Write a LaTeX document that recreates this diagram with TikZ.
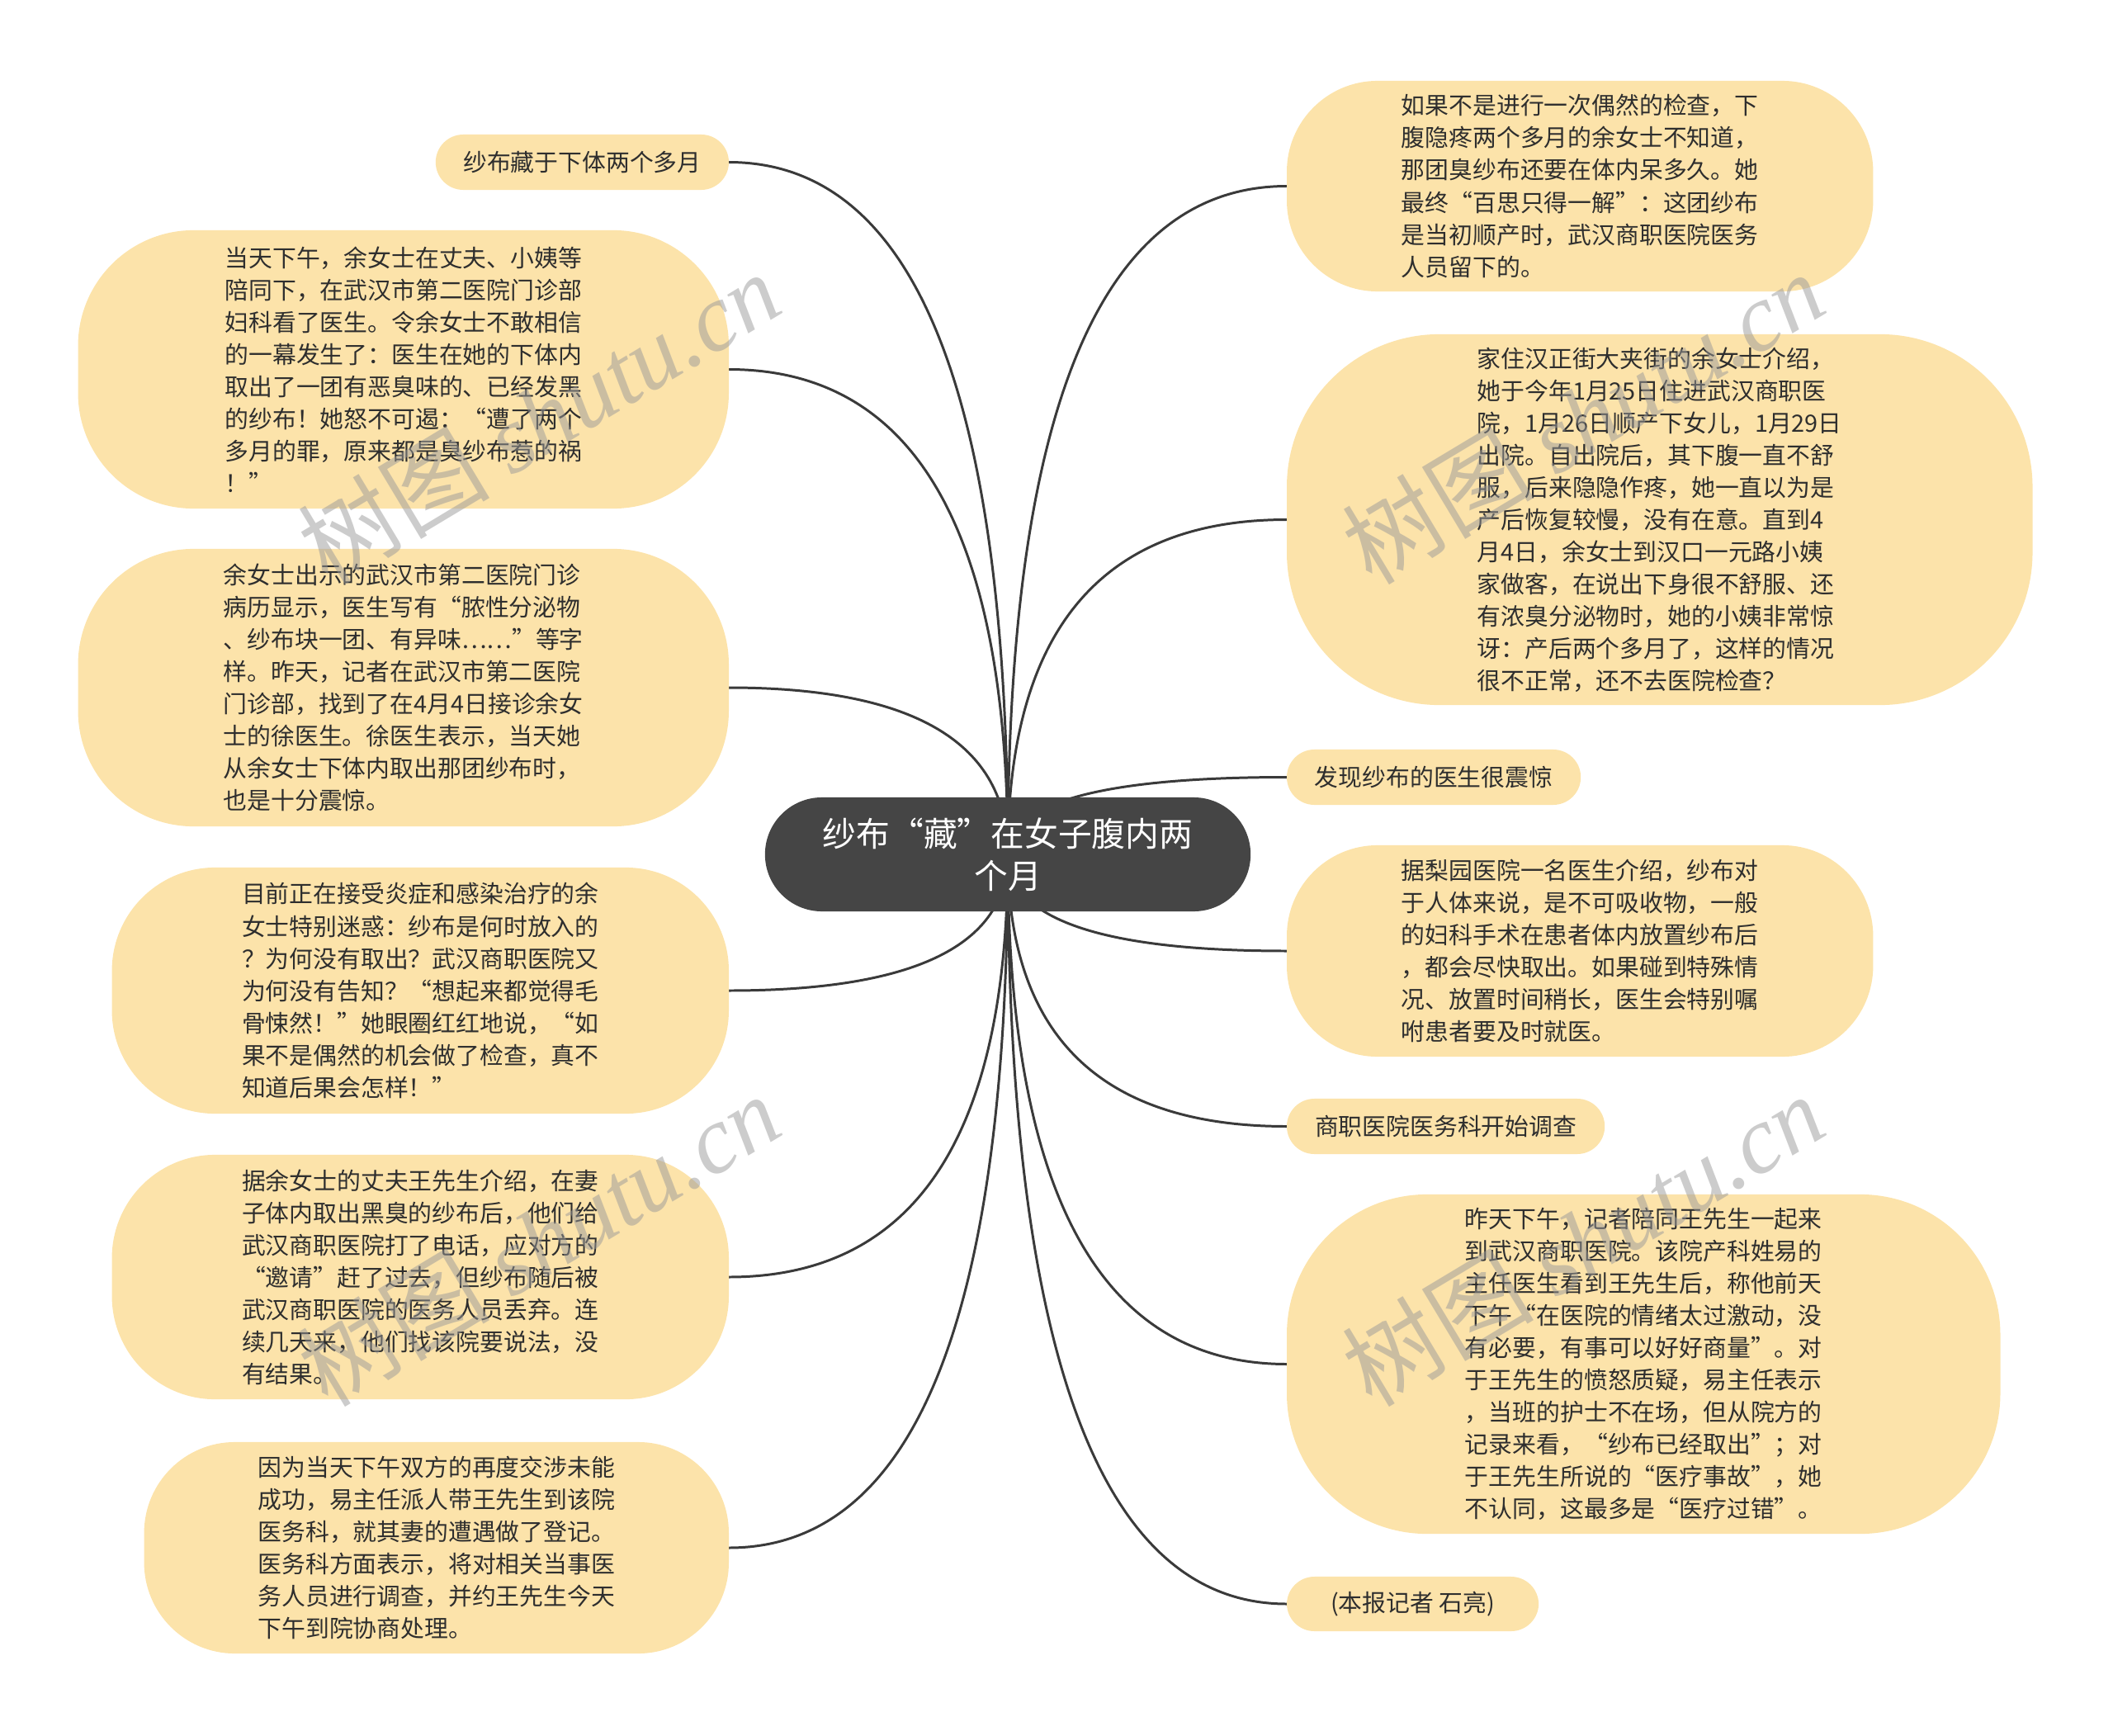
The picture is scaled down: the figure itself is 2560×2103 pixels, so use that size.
\documentclass[tikz,border=0pt]{standalone}
\usepackage{fontspec}
\usepackage{xcolor}
\usepackage{tikz}
\usetikzlibrary{calc,backgrounds}

\newfontfamily\cjk{Noto Sans CJK SC}
\newfontfamily\wmserif{Liberation Serif}

\definecolor{leafyellow}{HTML}{FCE3AA}
\definecolor{rootgray}{HTML}{454545}
\definecolor{inkgray}{HTML}{2E2E2E}
\definecolor{linegray}{HTML}{3A3A3A}

\tikzset{
  root/.style={fill=rootgray, text=white, font=\cjk\fontsize{11.6pt}{14.4pt}\selectfont,
    align=center, inner sep=0pt, outer sep=0pt, rounded corners=0.69cm},
  leaf/.style={fill=leafyellow, text=inkgray, font=\cjk\fontsize{8.2pt}{11.1pt}\selectfont,
    align=left, inner sep=0pt, outer sep=0pt, rounded corners=#1},
  leaf/.default=0.335cm,
  branch/.style={draw=linegray, line width=0.85pt},
  stamp/.style={text=black!40, opacity=0.5, font=\cjk\fontsize{33pt}{33pt}\selectfont,
    rotate=31, inner sep=0pt}
}

\begin{document}
\begin{tikzpicture}[x=0.01cm, y=-0.01cm]
    \useasboundingbox (0,0) rectangle (2560,2103);
    % root topic
    \node[root, minimum width=5.88cm, minimum height=1.38cm] (ctr) at (1221,1035) {纱布“藏”在女子腹内两\\个月};
    % left side: east edge at x=883
    \node[leaf, anchor=east, minimum width=3.55cm, minimum height=0.67cm] (l1) at (883,196.5) {纱布藏于下体两个多月};
    \node[leaf=1.4cm, anchor=east, minimum width=7.88cm, minimum height=3.37cm] (l2) at (883,447.5) {当天下午，余女士在丈夫、小姨等\\陪同下，在武汉市第二医院门诊部\\妇科看了医生。令余女士不敢相信\\的一幕发生了：医生在她的下体内\\取出了一团有恶臭味的、已经发黑\\的纱布！她怒不可遏：“遭了两个\\多月的罪，原来都是臭纱布惹的祸\\！”};
    \node[leaf=1.4cm, anchor=east, minimum width=7.88cm, minimum height=3.36cm] (l3) at (883,833) {余女士出示的武汉市第二医院门诊\\病历显示，医生写有“脓性分泌物\\、纱布块一团、有异味……”等字\\样。昨天，记者在武汉市第二医院\\门诊部，找到了在4月4日接诊余女\\士的徐医生。徐医生表示，当天她\\从余女士下体内取出那团纱布时，\\也是十分震惊。};
    \node[leaf=1.25cm, anchor=east, minimum width=7.47cm, minimum height=2.98cm] (l4) at (883,1200) {目前正在接受炎症和感染治疗的余\\女士特别迷惑：纱布是何时放入的\\？为何没有取出？武汉商职医院又\\为何没有告知？“想起来都觉得毛\\骨悚然！”她眼圈红红地说，“如\\果不是偶然的机会做了检查，真不\\知道后果会怎样！”};
    \node[leaf=1.25cm, anchor=east, minimum width=7.47cm, minimum height=2.96cm] (l5) at (883,1547) {据余女士的丈夫王先生介绍，在妻\\子体内取出黑臭的纱布后，他们给\\武汉商职医院打了电话，应对方的\\“邀请”赶了过去，但纱布随后被\\武汉商职医院的医务人员丢弃。连\\续几天来，他们找该院要说法，没\\有结果。};
    \node[leaf=1.1cm, anchor=east, minimum width=7.08cm, minimum height=2.56cm] (l6) at (883,1875) {因为当天下午双方的再度交涉未能\\成功，易主任派人带王先生到该院\\医务科，就其妻的遭遇做了登记。\\医务科方面表示，将对相关当事医\\务人员进行调查，并约王先生今天\\下午到院协商处理。};
    % right side: west edge at x=1559
    \node[leaf=1.1cm, anchor=west, minimum width=7.10cm, minimum height=2.55cm] (r1) at (1559,225.5) {如果不是进行一次偶然的检查，下\\腹隐疼两个多月的余女士不知道，\\那团臭纱布还要在体内呆多久。她\\最终“百思只得一解”：这团纱布\\是当初顺产时，武汉商职医院医务\\人员留下的。};
    \node[leaf=1.85cm, anchor=west, minimum width=9.03cm, minimum height=4.49cm] (r2) at (1559,629.5) {家住汉正街大夹街的余女士介绍，\\她于今年1月25日住进武汉商职医\\院，1月26日顺产下女儿，1月29日\\出院。自出院后，其下腹一直不舒\\服，后来隐隐作疼，她一直以为是\\产后恢复较慢，没有在意。直到4\\月4日，余女士到汉口一元路小姨\\家做客，在说出下身很不舒服、还\\有浓臭分泌物时，她的小姨非常惊\\讶：产后两个多月了，这样的情况\\很不正常，还不去医院检查？};
    \node[leaf, anchor=west, minimum width=3.56cm, minimum height=0.67cm] (r3) at (1559,941.5) {发现纱布的医生很震惊};
    \node[leaf=1.1cm, anchor=west, minimum width=7.10cm, minimum height=2.56cm] (r4) at (1559,1152) {据梨园医院一名医生介绍，纱布对\\于人体来说，是不可吸收物，一般\\的妇科手术在患者体内放置纱布后\\，都会尽快取出。如果碰到特殊情\\况、放置时间稍长，医生会特别嘱\\咐患者要及时就医。};
    \node[leaf, anchor=west, minimum width=3.85cm, minimum height=0.67cm] (r5) at (1559,1364.5) {商职医院医务科开始调查};
    \node[leaf=1.7cm, anchor=west, minimum width=8.64cm, minimum height=4.11cm] (r6) at (1559,1652.5) {昨天下午，记者陪同王先生一起来\\到武汉商职医院。该院产科姓易的\\主任医生看到王先生后，称他前天\\下午“在医院的情绪太过激动，没\\有必要，有事可以好好商量”。对\\于王先生的愤怒质疑，易主任表示\\，当班的护士不在场，但从院方的\\记录来看，“纱布已经取出”；对\\于王先生所说的“医疗事故”，她\\不认同，这最多是“医疗过错”。};
    \node[leaf, anchor=west, minimum width=3.05cm, minimum height=0.66cm] (r7) at (1559,1943) {(本报记者 石亮)};
    % branches leave the root centre vertically and reach each topic flat
    \begin{scope}[on background layer]
      \foreach \n/\s in {l1/east, l2/east, l3/east, l4/east, l5/east, l6/east,
                         r1/west, r2/west, r3/west, r4/west, r5/west, r6/west, r7/west} {
        \draw[branch] (ctr.center) .. controls ($(ctr.center)!0.667!(ctr.center |- \n.\s)$)
          and ($(\n.\s)!0.667!(ctr.center |- \n.\s)$) .. (\n.\s);
      }
    \end{scope}
    % watermark
    \foreach \wx/\wy in {653/506, 1918/506, 653/1502, 1918/1502} {
      \node[stamp] (mark\wx\wy) at (\wx,\wy) {树图 {\wmserif\itshape shutu.cn}};
    }
\end{tikzpicture}
\end{document}
